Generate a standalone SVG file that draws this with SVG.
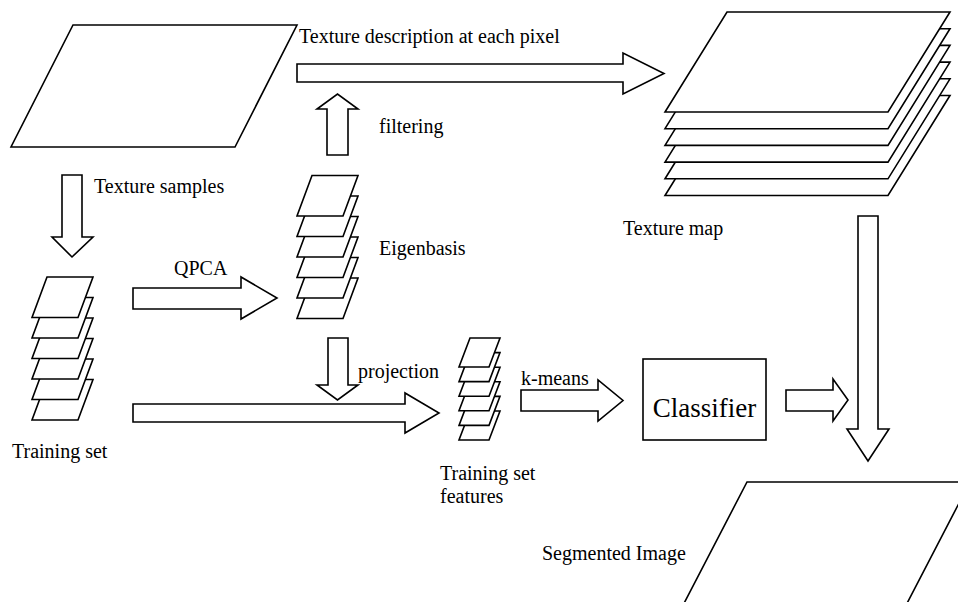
<svg xmlns="http://www.w3.org/2000/svg" xmlns:xlink="http://www.w3.org/1999/xlink" width="958" height="602" viewBox="0 0 958 602">
<style>
.s{fill:#fff;stroke:#000;stroke-width:1.6;stroke-linejoin:miter}
text{font-family:'Liberation Serif','Times New Roman',Times,serif;font-size:20px;fill:#000}
</style>
<defs>
<polygon id="sheetM" class="s" points="15,0 61,0 46,40.5 0,40.5"/>
<polygon id="sheetS" class="s" points="11,0 41,0 30,29 0,29"/>
<polygon id="sheetL" class="s" points="62,0 285,0 223,100 0,100"/>
</defs>
<rect width="958" height="602" fill="#fff"/>
<g id="texture-image">
<polygon class="s" points="73,25 297,25 235,147 11,147"/>
</g>
<g id="training-set">
<use xlink:href="#sheetM" x="32" y="379.5"/>
<use xlink:href="#sheetM" x="32" y="359"/>
<use xlink:href="#sheetM" x="32" y="338.5"/>
<use xlink:href="#sheetM" x="32" y="318"/>
<use xlink:href="#sheetM" x="32" y="297.5"/>
<use xlink:href="#sheetM" x="32" y="277"/>
<text x="12" y="458">Training set</text>
</g>
<g id="eigenbasis">
<use xlink:href="#sheetM" x="297" y="278"/>
<use xlink:href="#sheetM" x="297" y="257.5"/>
<use xlink:href="#sheetM" x="297" y="237"/>
<use xlink:href="#sheetM" x="297" y="216.5"/>
<use xlink:href="#sheetM" x="297" y="196"/>
<use xlink:href="#sheetM" x="297" y="175.5"/>
<text x="379" y="255">Eigenbasis</text>
</g>
<g id="features">
<use xlink:href="#sheetS" x="459" y="411"/>
<use xlink:href="#sheetS" x="459" y="396.4"/>
<use xlink:href="#sheetS" x="459" y="381.8"/>
<use xlink:href="#sheetS" x="459" y="367.2"/>
<use xlink:href="#sheetS" x="459" y="352.6"/>
<use xlink:href="#sheetS" x="459" y="338"/>
<text x="440" y="480">Training set</text>
<text x="440" y="503">features</text>
</g>
<g id="texture-map">
<use xlink:href="#sheetL" x="665" y="95.5"/>
<use xlink:href="#sheetL" x="665" y="78.8"/>
<use xlink:href="#sheetL" x="665" y="62.1"/>
<use xlink:href="#sheetL" x="665" y="45.4"/>
<use xlink:href="#sheetL" x="665" y="28.7"/>
<use xlink:href="#sheetL" x="665" y="12"/>
<text x="623" y="235">Texture map</text>
</g>
<g id="classifier">
<rect class="s" x="643" y="359" width="123" height="81"/>
<text x="704.5" y="417" text-anchor="middle" style="font-size:27px">Classifier</text>
</g>
<g id="segmented-image">
<polygon class="s" points="747,482 970,482 888,640 665,640"/>
<text x="542" y="560">Segmented Image</text>
</g>
<g id="connectors">
<polygon class="s" points="297,64 623,64 623,53 664,73.5 623,94 623,82 297,82"/>
<polygon class="s" points="327,155 348,155 348,109 358,109 337.5,94 317,109 327,109"/>
<polygon class="s" points="62,175 82,175 82,237 93,237 72,257 52,237 62,237"/>
<polygon class="s" points="133,288 241,288 241,277 277,298 241,319 241,309 133,309"/>
<polygon class="s" points="328,338 348,338 348,385 358,385 337.5,400 317,385 328,385"/>
<polygon class="s" points="133,404 405,404 405,393 439,413 405,433 405,422 133,422"/>
<polygon class="s" points="521,390 598,390 598,380 623,400.5 598,421 598,411 521,411"/>
<polygon class="s" points="786,390 833,390 833,379 848,400 833,421 833,411 786,411"/>
<polygon class="s" points="858,216 878,216 878,429 889,429 868,461 847,429 858,429"/>
<text x="299" y="43">Texture description at each pixel</text>
<text x="379" y="133">filtering</text>
<text x="94" y="193">Texture samples</text>
<text x="174" y="275">QPCA</text>
<text x="358" y="378">projection</text>
<text x="521" y="385">k-means</text>
</g>
</svg>
